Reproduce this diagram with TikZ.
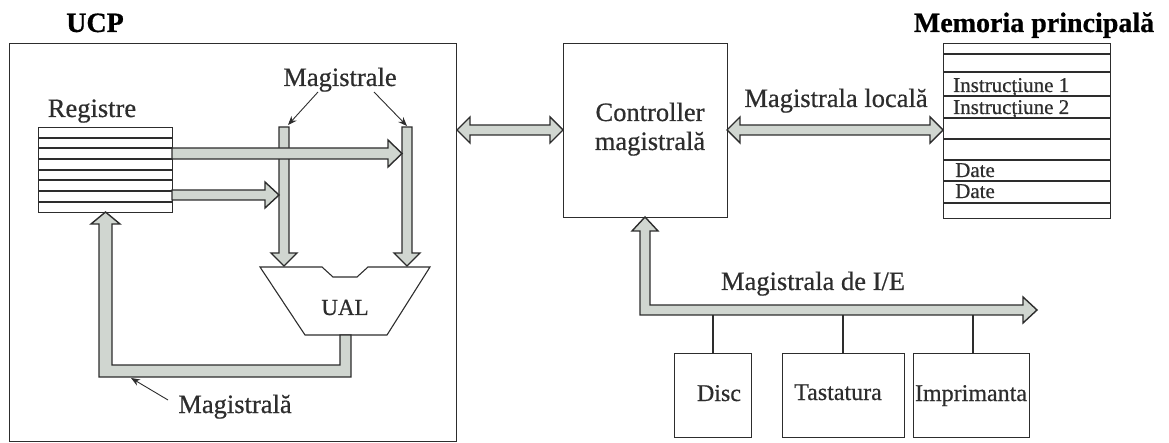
\documentclass[tikz,border=0pt]{standalone}
\usepackage{fontspec}
\setmainfont{Liberation Serif}[FakeBold=0.6]
\usetikzlibrary{arrows.meta}
\definecolor{busfill}{RGB}{208,214,208}
\definecolor{ink}{RGB}{45,45,45}
\newcommand\fsz[1]{\fontsize{#1}{#1}\selectfont}
\begin{document}
\begin{tikzpicture}[x=1pt,y=-1pt,
  frame/.style={draw=ink, line width=1.2pt, inner sep=0pt, anchor=north west},
  bus/.style={draw=ink, fill=busfill, line width=1.4pt, line join=miter},
  thin/.style={draw=ink, line width=1.1pt},
  ptr/.style={draw=ink, line width=0.9pt, -{Stealth[length=9pt,width=7pt]}},
  txt/.style={inner sep=0pt, anchor=base, text=ink, font=\fsz{26.5}},
  ttl/.style={inner sep=0pt, anchor=base, text=black, font=\fsz{28}\bfseries},
  memtxt/.style={inner sep=0pt, anchor=base west, text=ink, font=\fsz{21}},
  dev/.style={inner sep=0pt, anchor=base, text=ink, font=\fsz{24}}]
\useasboundingbox (0,0) rectangle (1169,443);

% ---------- UCP ----------
\node[ttl] (ucpT) at (95,32) {UCP};
\node[frame, minimum width=447pt, minimum height=398pt] (ucp) at (9,43) {};

% registers
\node[frame, minimum width=134pt, minimum height=85pt] (reg) at (38,127) {};
\foreach \yy in {138,148,159,170,180,191,202}
  \draw[thin] (38,\yy) -- (172,\yy);
\node[txt] (regT) at (92,117) {Registre};

% vertical buses
\draw[bus] (279,127) -- (289,127) -- (289,253) -- (297,253) -- (284,266) -- (271,253) -- (279,253) -- cycle;
\draw[bus] (402,127) -- (412,127) -- (412,253) -- (420,253) -- (407,266) -- (394,253) -- (402,253) -- cycle;
% horizontal arrows from registers
\draw[bus] (172,148) -- (388,148) -- (388,140) -- (402,153.5) -- (388,167) -- (388,159) -- (172,159) -- cycle;
\draw[bus] (172,190) -- (265,190) -- (265,182) -- (279,195) -- (265,208) -- (265,200) -- (172,200) -- cycle;

\node[txt] (magsT) at (340,86) {Magistrale};
\coordinate (m1) at (318,92);
\coordinate (m2) at (374,92);
\coordinate (v1top) at (288,125);
\coordinate (v2top) at (407,126);
\draw[ptr] (m1) -- (v1top);
\draw[ptr] (m2) -- (v2top);

% ALU
\draw[thin, line join=miter] (260,267) -- (322,267) -- (333,277) -- (357,277) -- (368,267) -- (430,267) -- (387,335) -- (305,335) -- cycle;
\node[inner sep=0pt, anchor=base, text=ink, font=\fsz{23}] (ual) at (345,315) {UAL};

% feedback bus
\draw[bus] (340,335) -- (340,365) -- (112,365) -- (112,224) -- (120,224) -- (105.5,212) -- (91,224) -- (99,224) -- (99,377) -- (351,377) -- (351,335) -- cycle;
\node[txt] (magT) at (235,413) {Magistrală};
\coordinate (p1) at (168,400);
\coordinate (p2) at (131,378);
\draw[ptr] (p1) -- (p2);

% ---------- Controller ----------
\node[frame, minimum width=164pt, minimum height=174pt] (ctl) at (563,43) {};
\node[txt] (ctlT1) at (650,121) {Controller};
\node[txt] (ctlT2) at (650,150) {magistrală};

% UCP <-> controller
\draw[bus] (457,130) -- (470,117) -- (470,125) -- (550,125) -- (550,117) -- (563,130) -- (550,143) -- (550,135) -- (470,135) -- (470,143) -- cycle;
% controller <-> memory
\draw[bus] (727,130) -- (740,117) -- (740,125) -- (930,125) -- (930,117) -- (943,130) -- (930,143) -- (930,135) -- (740,135) -- (740,143) -- cycle;
\node[txt] (locT) at (836,107) {Magistrala locală};

% ---------- Memory ----------
\node[ttl] (memT) at (1034,32) {Memoria principală};
\node[frame, minimum width=167pt, minimum height=175pt] (mem) at (943,43) {};
\foreach \yy in {54,72,96,118,139,160,181,203}
  \draw[thin] (943,\yy) -- (1110,\yy);
\node[memtxt] (i1) at (953,92) {Instrucțiune 1};
\node[memtxt] (i2) at (953,114) {Instrucțiune 2};
\node[memtxt] (d1) at (955,177) {Date};
\node[memtxt] (d2) at (955,198) {Date};

% ---------- I/O bus ----------
\draw[bus] (645,217) -- (658,231) -- (650,231) -- (650,305) -- (1023,305) -- (1023,297) -- (1037,310) -- (1023,323) -- (1023,315) -- (640,315) -- (640,231) -- (632,231) -- cycle;
\node[txt] (ioT) at (813,290) {Magistrala de I/E};

\node[frame, minimum width=77pt, minimum height=84pt] (disc) at (674,353) {};
\node[frame, minimum width=122pt, minimum height=84pt] (tast) at (782,353) {};
\node[frame, minimum width=116pt, minimum height=84pt] (impr) at (913,353) {};
\node[dev] at (719,401) {Disc};
\node[dev] at (838,400) {Tastatura};
\node[dev] at (971,401) {Imprimanta};

\coordinate (s1) at (713,315);
\coordinate (s2) at (843,315);
\coordinate (s3) at (973,315);
\draw[thin] (s1) -- (s1 |- disc.north);
\draw[thin] (s2) -- (s2 |- tast.north);
\draw[thin] (s3) -- (s3 |- impr.north);
\end{tikzpicture}
\end{document}
